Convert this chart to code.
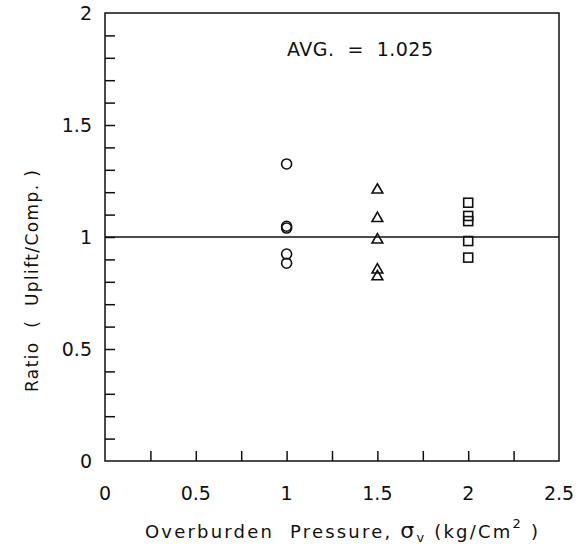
<!DOCTYPE html>
<html>
<head>
<meta charset="utf-8">
<script src="https://cdn.jsdelivr.net/npm/d3@7"></script>
<style>
  body { margin: 0; background: #fff; }
  text { font-family: "DejaVu Sans", sans-serif; fill: #111; }
</style>
</head>
<body>
<div id="chart"></div>
<script>
// data
const circleX = 1.0;
const circleRatios = [1.326, 1.048, 1.04, 0.924, 0.883];
const triangleX = 1.5;
const triangleRatios = [1.21, 1.083, 0.987, 0.853, 0.823];
const squareX = 2.0;
const squareRatios = [1.153, 1.094, 1.071, 0.982, 0.908];
const xTickLabels = [0, 0.5, 1, 1.5, 2, 2.5];
const yTickLabels = [0, 0.5, 1, 1.5, 2];
const avgLabel = 'AVG.  =  1.025';

const width = 587,
  height = 553;
const margin = { left: 105, right: 28, top: 13, bottom: 92 };

const svg = d3
  .select('#chart')
  .append('svg')
  .attr('width', width)
  .attr('height', height);

const x = d3
  .scaleLinear()
  .domain([0, 2.5])
  .range([margin.left, width - margin.right]);
const y = d3
  .scaleLinear()
  .domain([0, 2])
  .range([height - margin.bottom, margin.top]);

// frame
svg
  .append('rect')
  .attr('x', x(0))
  .attr('y', y(2))
  .attr('width', x(2.5) - x(0))
  .attr('height', y(0) - y(2))
  .attr('fill', 'none')
  .attr('stroke', '#111')
  .attr('stroke-width', 1.5);

// inward ticks
const xAxis = d3
  .axisTop(x)
  .tickValues(d3.range(0.25, 2.5, 0.25))
  .tickSize(10)
  .tickFormat('');
svg
  .append('g')
  .attr('transform', `translate(0,${y(0)})`)
  .call(xAxis)
  .call((g) => g.select('.domain').remove())
  .call((g) => g.selectAll('line').attr('stroke', '#111').attr('stroke-width', 1.5));

const yAxis = d3
  .axisRight(y)
  .tickValues(d3.range(1, 20).map((i) => i / 10))
  .tickSize(10)
  .tickFormat('');
svg
  .append('g')
  .attr('transform', `translate(${x(0)},0)`)
  .call(yAxis)
  .call((g) => g.select('.domain').remove())
  .call((g) => g.selectAll('line').attr('stroke', '#111').attr('stroke-width', 1.5));

// tick labels
svg
  .append('g')
  .selectAll('text')
  .data(xTickLabels)
  .join('text')
  .attr('x', (d) => x(d))
  .attr('y', y(0) + 39)
  .attr('text-anchor', 'middle')
  .attr('font-size', 19)
  .text((d) => d);

svg
  .append('g')
  .selectAll('text')
  .data(yTickLabels)
  .join('text')
  .attr('x', x(0) - 13)
  .attr('y', (d) => y(d) + 7)
  .attr('text-anchor', 'end')
  .attr('font-size', 19)
  .text((d) => d);

// reference line at 1
svg
  .append('line')
  .attr('x1', x(0))
  .attr('x2', x(2.5))
  .attr('y1', y(1))
  .attr('y2', y(1))
  .attr('stroke', '#111')
  .attr('stroke-width', 1.5);

// markers
const mk = svg.append('g').attr('fill', 'none').attr('stroke', '#111').attr('stroke-width', 1.6);

mk.selectAll('circle')
  .data(circleRatios)
  .join('circle')
  .attr('cx', x(circleX))
  .attr('cy', (d) => y(d))
  .attr('r', 5);

const tri = d3.symbol().type(d3.symbolTriangle).size(50);
mk.selectAll('path.tri')
  .data(triangleRatios)
  .join('path')
  .attr('class', 'tri')
  .attr('d', tri)
  .attr('transform', (d) => `translate(${x(triangleX)},${y(d)})`);

mk.selectAll('rect')
  .data(squareRatios)
  .join('rect')
  .attr('x', x(squareX) - 4.5)
  .attr('y', (d) => y(d) - 4.5)
  .attr('width', 9)
  .attr('height', 9);

// annotation
svg
  .append('text')
  .attr('x', 287)
  .attr('y', 56)
  .attr('font-size', 19)
  .attr('textLength', 146)
  .style('white-space', 'pre')
  .text(avgLabel);

// axis titles
svg
  .append('text')
  .attr('transform', `translate(38,392) rotate(-90)`)
  .attr('font-size', 17)
  .attr('textLength', 222)
  .style('white-space', 'pre')
  .text('Ratio  (  Uplift/Comp. )');

const xt = svg
  .append('text')
  .attr('x', 145)
  .attr('y', 538)
  .attr('font-size', 18)
  .attr('letter-spacing', 2.2)
  .style('white-space', 'pre');
xt.append('tspan').text('Overburden  Pressure, ');
xt.append('tspan').attr('font-size', 22).text('σ');
xt.append('tspan').attr('font-size', 13).attr('dy', 4).text('v');
xt.append('tspan').attr('dy', -4).text(' (kg/Cm');
xt.append('tspan').attr('font-size', 13).attr('dy', -10).text('2');
xt.append('tspan').attr('dy', 10).text(' )');
</script>
</body>
</html>
